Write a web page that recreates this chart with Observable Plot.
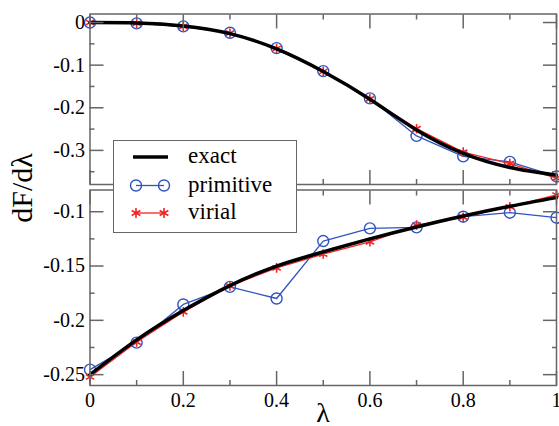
<!DOCTYPE html>
<html><head><meta charset="utf-8">
<script src="https://cdn.jsdelivr.net/npm/d3@7"></script>
<script src="https://cdn.jsdelivr.net/npm/@observablehq/plot@0.6"></script>
<style>
body{margin:0;background:#fff;font-family:'Liberation Serif'}
#chart{position:relative;width:559px;height:426px;overflow:hidden;color:#000}
#chart > svg{position:absolute;left:0;top:0}
.ylab{position:absolute;left:22px;top:188px;transform:translate(-50%,-50%) rotate(-90deg);font-size:30px;white-space:nowrap;line-height:1}
.xlab{position:absolute;left:323px;top:413px;transform:translate(-50%,-50%);font-size:28px;line-height:1}
.legend{position:absolute;left:113px;top:140px;width:182px;height:91px;border:1.5px solid #666;background:#fff}
.legend svg{position:absolute;left:0;top:0}
.legend .t{position:absolute;left:74px;font-size:23px;line-height:1;transform:translateY(-55%)}
</style></head><body><div id="chart">
<div class="ylab" style="font-family:'Liberation Serif'">dF/dλ</div>
<div class="xlab" style="font-family:'Liberation Serif'">λ</div>
<div class="legend" id="legend">
<div class="t" style="font-family:'Liberation Serif';top:16px">exact</div>
<div class="t" style="font-family:'Liberation Serif';top:44.5px">primitive</div>
<div class="t" style="font-family:'Liberation Serif';top:72px">virial</div>
</div>
</div>
<script>
const lambda = [0, 0.1, 0.2, 0.3, 0.4, 0.5, 0.6, 0.7, 0.8, 0.9, 1.0];
// upper panel
const exactTop = [0, -0.001, -0.008, -0.026, -0.062, -0.115, -0.180, -0.252, -0.307, -0.340, -0.358];
const primitiveTop = [0, -0.002, -0.009, -0.024, -0.060, -0.114, -0.178, -0.266, -0.314, -0.327, -0.361];
const virialTop = [0, -0.002, -0.009, -0.025, -0.061, -0.115, -0.179, -0.249, -0.304, -0.331, -0.365];
// lower panel
const exactBottom = [-0.250, -0.218, -0.191, -0.168, -0.150, -0.137, -0.125, -0.114, -0.104, -0.095, -0.087];
const primitiveBottom = [-0.2454, -0.2205, -0.1854, -0.1692, -0.1799, -0.127, -0.1153, -0.1144, -0.1046, -0.1009, -0.1055];
const virialBottom = [-0.2522, -0.220, -0.1922, -0.1683, -0.1517, -0.139, -0.1277, -0.1123, -0.105, -0.0954, -0.0846];
// ticks
const xMajor = [0, 0.2, 0.4, 0.6, 0.8, 1];
const xMinor = [0.1, 0.3, 0.5, 0.7, 0.9];
const topMajor = [0, -0.1, -0.2, -0.3];
const topMinor = [-0.05, -0.15, -0.25, -0.35];
const bottomMajor = [-0.1, -0.15, -0.2, -0.25];
const bottomMinor = [-0.125, -0.175, -0.225];
const topDomain = [-0.38, 0.02];
const bottomDomain = [-0.26, -0.08];

const W = 559, H = 426;
const BLUE = "#3153c0", RED = "#f42424", FRAME = "#666";
const SERIF = "Liberation Serif";
const rows = ys => lambda.map((x, i) => ({x, y: ys[i]}));
const fmt = d => String(d);

function panel({domain, top, bottom, exact, prim, vir, yMajor, yMinor, xLabels}) {
  const marks = [
    Plot.line(rows(prim), {x: "x", y: "y", stroke: BLUE, strokeWidth: 1.3}),
    Plot.dot(rows(prim), {x: "x", y: "y", r: 5.5, stroke: BLUE, strokeWidth: 1.4, fill: "none"}),
    Plot.line(rows(vir), {x: "x", y: "y", stroke: RED, strokeWidth: 1.3}),
    Plot.dot(rows(vir), {x: "x", y: "y", r: 4.5, symbol: "asterisk", stroke: RED, strokeWidth: 1.6}),
    Plot.line(rows(exact), {x: "x", y: "y", stroke: "#000", strokeWidth: 3.5, curve: "natural"}),
    Plot.frame({stroke: FRAME, strokeWidth: 1.5}),
    Plot.axisY(yMajor, {anchor: "left", tickSize: -14, stroke: FRAME, strokeWidth: 1.5, tickFormat: () => "", label: null}),
    Plot.axisY(yMinor, {anchor: "left", tickSize: -5, stroke: FRAME, strokeWidth: 1.5, tickFormat: () => "", label: null}),
    Plot.axisY(yMajor, {anchor: "right", tickSize: -14, stroke: FRAME, strokeWidth: 1.5, tickFormat: () => "", label: null}),
    Plot.axisY(yMinor, {anchor: "right", tickSize: -5, stroke: FRAME, strokeWidth: 1.5, tickFormat: () => "", label: null}),
    Plot.axisX(xMajor, {anchor: "bottom", tickSize: -14, stroke: FRAME, strokeWidth: 1.5, tickFormat: () => "", label: null}),
    Plot.axisX(xMinor, {anchor: "bottom", tickSize: -5, stroke: FRAME, strokeWidth: 1.5, tickFormat: () => "", label: null}),
    Plot.axisX(xMajor, {anchor: "top", tickSize: -14, stroke: FRAME, strokeWidth: 1.5, tickFormat: () => "", label: null}),
    Plot.axisX(xMinor, {anchor: "top", tickSize: -5, stroke: FRAME, strokeWidth: 1.5, tickFormat: () => "", label: null}),
    Plot.axisY(yMajor, {anchor: "left", tickSize: 0, tickPadding: 5, tickFormat: fmt, label: null, fill: "#000", fontFamily: SERIF})
  ];
  if (xLabels) marks.push(Plot.axisX(xMajor, {anchor: "bottom", tickSize: 0, tickPadding: 7, tickFormat: fmt, label: null, fill: "#000", fontFamily: SERIF}));
  const svg = Plot.plot({
    width: W, height: H,
    marginLeft: 89.5, marginRight: 3, marginTop: top, marginBottom: H - bottom,
    x: {domain: [0, 1], label: null},
    y: {domain, label: null},
    style: {background: "transparent", fontSize: "20px", fontFamily: SERIF, color: "#000", overflow: "hidden"},
    marks
  });
  return svg;
}

const chart = document.getElementById("chart");
const first = chart.firstElementChild;
chart.insertBefore(panel({domain: topDomain, top: 13.5, bottom: 184, exact: exactTop, prim: primitiveTop, vir: virialTop, yMajor: topMajor, yMinor: topMinor, xLabels: false}), first);
chart.insertBefore(panel({domain: bottomDomain, top: 189.5, bottom: 385, exact: exactBottom, prim: primitiveBottom, vir: virialBottom, yMajor: bottomMajor, yMinor: bottomMinor, xLabels: true}), first);

// legend symbols
const ns = "http://www.w3.org/2000/svg";
const ls = document.createElementNS(ns, "svg"); ls.setAttribute("width", 182); ls.setAttribute("height", 91);
const rowY = [16, 44.5, 72];
const styles = [
  {stroke: "#000", width: 3.5, sym: null},
  {stroke: BLUE, width: 1.3, sym: "circle"},
  {stroke: RED, width: 1.3, sym: "asterisk"}
];
styles.forEach((s, i) => {
  const y = rowY[i];
  const x1 = i === 0 ? 19 : 22, x2 = i === 0 ? 54 : 50;
  const ln = document.createElementNS(ns, "line");
  ln.setAttribute("x1", x1); ln.setAttribute("x2", x2); ln.setAttribute("y1", y); ln.setAttribute("y2", y);
  ln.setAttribute("stroke", s.stroke); ln.setAttribute("stroke-width", s.width); ls.append(ln);
  if (s.sym) {
    [x1, x2].forEach(cx => {
      const p = document.createElementNS(ns, "path");
      p.setAttribute("d", d3.symbol(s.sym === "circle" ? d3.symbolCircle : d3.symbolAsterisk, s.sym === "circle" ? Math.PI * 5.5 * 5.5 : 70)());
      p.setAttribute("transform", `translate(${cx},${y})`);
      p.setAttribute("fill", "none"); p.setAttribute("stroke", s.stroke); p.setAttribute("stroke-width", s.sym === "circle" ? 1.4 : 1.6);
      ls.append(p);
    });
  }
});
document.getElementById("legend").prepend(ls);
</script></body></html>
